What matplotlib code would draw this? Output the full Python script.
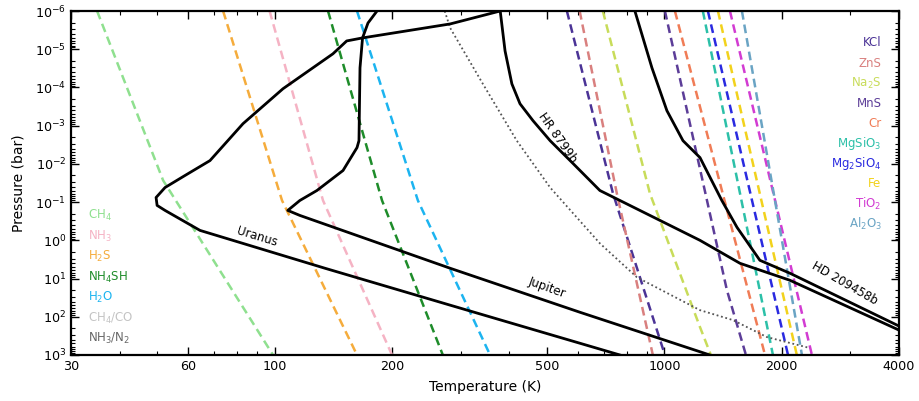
import matplotlib
matplotlib.use("Agg")
import matplotlib.pyplot as plt
from matplotlib.ticker import LogLocator, NullFormatter, FixedLocator, FixedFormatter

# Condensation curves: temperature (K) sampled at pressures (bar)
ch4_p = [1e-6, 0.027, 1e3]
ch4_t = [35, 51.7, 99]
nh3_p = [1e-6, 0.0906, 1e3]
nh3_t = [97, 133, 200]
h2s_p = [1e-6, 0.0906, 1e3]
h2s_t = [73.7, 104.4, 162.6]
nh4sh_p = [1e-6, 0.0906, 1e3]
nh4sh_t = [137, 188.5, 270]
h2o_p = [1e-6, 0.0906, 1e3]
h2o_t = [162.6, 233, 357]

kcl_p = [1e-6, 0.0594, 1e3]
kcl_t = [562, 738, 1003]
zns_p = [1e-6, 0.0594, 1e3]
zns_t = [606, 755, 934]
na2s_p = [1e-6, 0.0594, 186, 1e3]
na2s_t = [695, 918, 1234, 1316]
mns_p = [1e-6, 20.2, 1e3]
mns_t = [1003, 1447, 1619]
cr_p = [1e-6, 1e3]
cr_t = [1064, 1812]
mgsio3_p = [1e-6, 1e3]
mgsio3_t = [1255, 1899]
mg2sio4_p = [1e-6, 1e3]
mg2sio4_t = [1293, 2076]
fe_p = [1e-6, 1e3]
fe_t = [1372, 2187]
tio2_p = [1e-6, 1e3]
tio2_t = [1473, 2391]
al2o3_p = [1e-6, 1e3]
al2o3_t = [1581, 2254]

# Equal-abundance boundary
nh3n2_p = [1e-6, 2.78e-6, 8.04e-5, 2.47e-3, 0.0415, 1.2, 9.25, 67.1, 122, 340, 658]
nh3n2_t = [273, 282, 342, 418, 509, 683, 850, 1234, 1499, 1833, 2363]

# Atmospheric P-T profiles
jup_p = [1e-6, 2.06e-6, 5.06e-6, 3.07e-5, 2.47e-3, 3.75e-3, 0.0149, 0.0497,
         0.0906, 0.165, 0.223, 5.38, 75.7, 1000]
jup_t = [183, 173.5, 168, 165.5, 164.5, 162.6, 149.7, 128.3, 116, 108, 116,
         282, 606, 1308]
ura_p = [1e-6, 2.18e-6, 5.06e-6, 6.07e-6, 1.32e-5, 1.08e-4, 8.87e-4, 8.2e-3,
         0.0202, 0.0415, 0.0757, 0.122, 0.165, 0.55, 5.38, 49.7, 1000]
ura_t = [379, 282, 168, 153, 141, 105, 82.9, 68.2, 58.8, 52.3, 49.6, 49.9,
         52.3, 64.3, 134.6, 282, 769]
hr_p = [1e-6, 1.11e-5, 8.04e-5, 2.67e-4, 7.4e-4, 2.47e-3, 9.8e-3, 0.0497,
        1.0, 3.99, 11.1, 223]
hr_t = [379, 390, 406, 426, 460, 509, 583, 683, 1234, 1563, 2100, 4000]
hd_p = [1e-6, 3.07e-5, 4.06e-4, 2.47e-3, 6.84e-3, 0.0906, 0.458, 3.33, 7.26, 175]
hd_t = [840, 929, 1015, 1116, 1234, 1404, 1536, 1758, 2100, 4000]

x_ticks = [30, 60, 100, 200, 500, 1000, 2000, 4000]

left_species = [
    ("CH$_4$", ch4_t, ch4_p, "#8fe08f"),
    ("NH$_3$", nh3_t, nh3_p, "#f5b3c4"),
    ("H$_2$S", h2s_t, h2s_p, "#f5ac3c"),
    ("NH$_4$SH", nh4sh_t, nh4sh_p, "#1e8c2a"),
    ("H$_2$O", h2o_t, h2o_p, "#1cb4f0"),
]
right_species = [
    ("KCl", kcl_t, kcl_p, "#4b3396"),
    ("ZnS", zns_t, zns_p, "#d9807f"),
    ("Na$_2$S", na2s_t, na2s_p, "#c8dc5a"),
    ("MnS", mns_t, mns_p, "#5c3d98"),
    ("Cr", cr_t, cr_p, "#f07c56"),
    ("MgSiO$_3$", mgsio3_t, mgsio3_p, "#2cc0a8"),
    ("Mg$_2$SiO$_4$", mg2sio4_t, mg2sio4_p, "#2a2ae0"),
    ("Fe", fe_t, fe_p, "#f2d21c"),
    ("TiO$_2$", tio2_t, tio2_p, "#d23cd2"),
    ("Al$_2$O$_3$", al2o3_t, al2o3_p, "#6aa4c4"),
]

fig = plt.figure(figsize=(9.19, 4.01), dpi=100)
ax = fig.add_axes([71/919, 46/401, 828/919, 344/401])

for name, t, p, c in left_species + right_species:
    ax.plot(t, p, color=c, lw=1.8, ls=(0, (3.5, 2)))

ax.plot(nh3n2_t, nh3n2_p, color="#555555", lw=1.3, ls=(0, (1, 1.5)))

for t, p in [(jup_t, jup_p), (ura_t, ura_p), (hr_t, hr_p), (hd_t, hd_p)]:
    ax.plot(t, p, color="black", lw=2.0, solid_joinstyle="round")

ax.set_xscale("log")
ax.set_yscale("log")
ax.set_xlim(30, 4000)
ax.set_ylim(1e3, 1e-6)

ax.xaxis.set_major_locator(FixedLocator(x_ticks))
ax.xaxis.set_major_formatter(FixedFormatter([str(v) for v in x_ticks]))
ax.xaxis.set_minor_locator(LogLocator(base=10, subs=range(2, 10)))
ax.xaxis.set_minor_formatter(NullFormatter())
ax.yaxis.set_major_locator(LogLocator(base=10, numticks=20))
ax.yaxis.set_minor_locator(LogLocator(base=10, subs=range(2, 10), numticks=20))
ax.yaxis.set_minor_formatter(NullFormatter())

ax.tick_params(which="both", direction="in", top=True, right=True,
               labelsize=9.2, colors="black")
ax.tick_params(which="major", length=6, width=1)
ax.tick_params(which="minor", length=3, width=0.8)
for s in ax.spines.values():
    s.set_linewidth(1.6)

ax.set_xlabel("Temperature (K)", fontsize=10, labelpad=5)
ax.set_ylabel("Pressure (bar)", fontsize=10, labelpad=7)

# species labels
left_names = [s[0] for s in left_species] + ["CH$_4$/CO", "NH$_3$/N$_2$"]
left_colors = [s[3] for s in left_species] + ["#c4c4c4", "#666666"]
for i, (name, c) in enumerate(zip(left_names, left_colors)):
    ax.text(0.021, 0.405 - i * 0.0595, name, color=c, fontsize=8.5,
            transform=ax.transAxes, ha="left", va="center")
for i, (name, t, p, c) in enumerate(right_species):
    ax.text(0.979, 0.907 - i * 0.0585, name, color=c, fontsize=8.5,
            transform=ax.transAxes, ha="right", va="center")

# profile labels
ax.text(90, 0.787, "Uranus", rotation=-17, fontsize=8.5, ha="center", va="center")
ax.text(500, 16.9, "Jupiter", rotation=-20, fontsize=8.5, ha="center", va="center")
ax.text(533, 2.06e-3, "HR 8799b", rotation=-55, fontsize=8.5, ha="center", va="center")
ax.text(2906, 13.3, "HD 209458b", rotation=-30, fontsize=8.5, ha="center", va="center")

fig.savefig("out.png", dpi=100)
